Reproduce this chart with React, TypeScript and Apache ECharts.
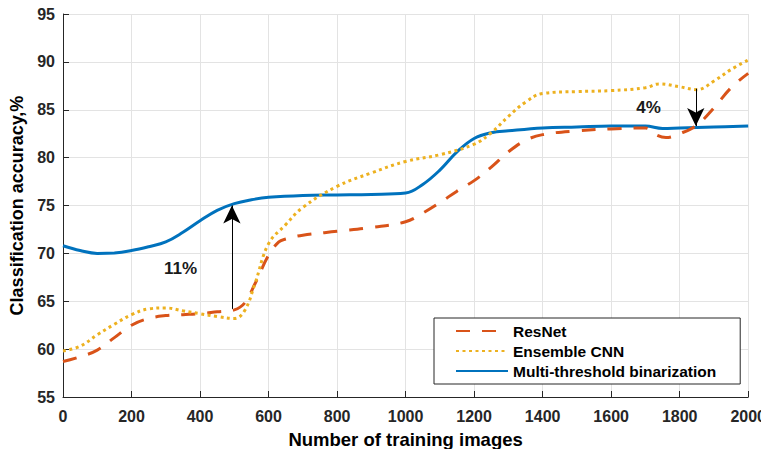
import React, { useEffect, useRef } from "react";
import * as echarts from "echarts";

const resnetX = [0, 50, 100, 150, 200, 250, 300, 350, 400, 450, 500, 530, 560, 600, 630, 650, 700, 800, 900, 1000, 1050, 1100, 1150, 1200, 1250, 1300, 1350, 1400, 1500, 1600, 1700, 1730, 1760, 1800, 1850, 1900, 1950, 2000];
const resnetY = [58.7, 59.2, 59.9, 61.2, 62.5, 63.2, 63.5, 63.6, 63.7, 63.9, 64.1, 64.8, 66.8, 69.8, 71.2, 71.5, 71.9, 72.3, 72.7, 73.3, 74.2, 75.3, 76.5, 77.6, 79.0, 80.6, 81.8, 82.4, 82.8, 83.0, 83.1, 82.4, 82.1, 82.5, 83.4, 85.2, 87.3, 88.8];

const ensembleX = [0, 50, 100, 150, 200, 250, 300, 350, 400, 450, 500, 530, 560, 600, 650, 700, 800, 900, 1000, 1100, 1200, 1250, 1300, 1350, 1400, 1500, 1600, 1700, 1740, 1800, 1850, 1900, 1950, 2000];
const ensembleY = [59.8, 60.3, 61.5, 62.6, 63.6, 64.2, 64.3, 64.0, 63.7, 63.4, 63.2, 64.0, 66.8, 71.0, 73.0, 74.8, 77.0, 78.4, 79.6, 80.3, 81.4, 82.6, 84.3, 85.8, 86.7, 86.9, 87.0, 87.3, 87.7, 87.4, 87.1, 88.0, 89.2, 90.2];

const multiX = [0, 50, 100, 150, 200, 250, 300, 350, 400, 450, 500, 550, 600, 700, 800, 900, 1000, 1050, 1100, 1150, 1200, 1250, 1300, 1400, 1500, 1600, 1700, 1750, 1800, 1900, 2000];
const multiY = [70.8, 70.3, 70.0, 70.05, 70.3, 70.7, 71.2, 72.2, 73.4, 74.5, 75.2, 75.6, 75.85, 76.05, 76.1, 76.15, 76.3, 77.2, 78.7, 80.6, 82.0, 82.6, 82.8, 83.1, 83.2, 83.3, 83.3, 83.05, 83.1, 83.2, 83.3];

const seriesNames = ["ResNet", "Ensemble CNN", "Multi-threshold binarization"];

// annotation arrows: [x, yFrom, yTo]
const arrow1 = [493, 64.2, 75.0];
const arrow2 = [1847, 87.2, 83.3];
// annotation labels: [x, y, text]
const label1: [number, number, string] = [343, 68.4, "11%"];
const label2: [number, number, string] = [1709, 85.25, "4%"];

const FONT = "'Liberation Sans', Arial, Helvetica, sans-serif";
const AX = "#262626";

function zip(xs: number[], ys: number[]) {
  return xs.map((x, i) => [x, ys[i]]);
}

export default function App() {
  const ref = useRef<HTMLDivElement>(null);
  useEffect(() => {
    const chart = echarts.init(ref.current!, undefined, { renderer: "svg" });
    chart.setOption({
      animation: false,
      backgroundColor: "#fff",
      textStyle: { fontFamily: FONT },
      grid: { left: 63, right: 20, top: 14, bottom: 60, containLabel: false },
      legend: {
        data: seriesNames,
        orient: "vertical",
        left: 434,
        top: 318,
        itemWidth: 52,
        itemHeight: 14,
        itemGap: 4,
        padding: [5, 24, 5, 21],
        backgroundColor: "#fff",
        borderColor: AX,
        borderWidth: 1,
        borderRadius: 0,
        itemStyle: { opacity: 0, color: "rgba(0,0,0,0)", borderWidth: 0 },
        textStyle: { fontFamily: FONT, fontWeight: "bold", fontSize: 15.5, color: "#000" },
      },
      xAxis: {
        type: "value",
        min: 0,
        max: 2000,
        interval: 200,
        name: "Number of training images",
        nameLocation: "middle",
        nameGap: 33,
        nameTextStyle: { fontFamily: FONT, fontWeight: "bold", fontSize: 18.5, color: "#000" },
        axisLine: { show: true, lineStyle: { color: AX, width: 1 } },
        axisTick: { show: true, inside: true, length: 6, lineStyle: { color: AX } },
        axisLabel: { fontFamily: FONT, fontWeight: "bold", fontSize: 16, color: AX, margin: 11, formatter: (v: number) => String(v) },
        splitLine: { show: true, lineStyle: { color: "#e3e3e3", width: 1 } },
      },
      yAxis: {
        type: "value",
        min: 55,
        max: 95,
        interval: 5,
        name: "Classification accuracy,%",
        nameLocation: "middle",
        nameGap: 30,
        nameTextStyle: { fontFamily: FONT, fontWeight: "bold", fontSize: 18, color: "#000" },
        axisLine: { show: true, lineStyle: { color: AX, width: 1 } },
        axisTick: { show: true, inside: true, length: 6, lineStyle: { color: AX } },
        axisLabel: { fontFamily: FONT, fontWeight: "bold", fontSize: 16, color: AX, margin: 8, formatter: (v: number) => String(v) },
        splitLine: { show: true, lineStyle: { color: "#e3e3e3", width: 1 } },
      },
      series: [
        {
          name: seriesNames[0],
          type: "line",
          data: zip(resnetX, resnetY),
          smooth: 0.4,
          symbol: "none",
          z: 3,
          lineStyle: { color: "#D95319", width: 3, type: [14, 12] },
          itemStyle: { color: "#D95319" },
        },
        {
          name: seriesNames[1],
          type: "line",
          data: zip(ensembleX, ensembleY),
          smooth: 0.4,
          symbol: "none",
          z: 4,
          lineStyle: { color: "#EDB120", width: 3, type: [3, 3.5] },
          itemStyle: { color: "#EDB120" },
        },
        {
          name: seriesNames[2],
          type: "line",
          data: zip(multiX, multiY),
          smooth: 0.4,
          symbol: "none",
          z: 2,
          lineStyle: { color: "#0072BD", width: 3, type: "solid" },
          itemStyle: { color: "#0072BD" },
        },
        {
          name: "annotations",
          type: "line",
          data: [],
          z: 6,
          markLine: {
            silent: true,
            symbol: ["none", "arrow"],
            symbolSize: [13, 18],
            label: { show: false },
            lineStyle: { color: "#000", width: 1, type: "solid" },
            itemStyle: { color: "#000" },
            data: [
              [{ coord: [arrow1[0], arrow1[1]] }, { coord: [arrow1[0], arrow1[2]] }],
              [{ coord: [arrow2[0], arrow2[1]] }, { coord: [arrow2[0], arrow2[2]] }],
            ],
          },
          markPoint: {
            silent: true,
            symbol: "circle",
            symbolSize: 1,
            itemStyle: { color: "rgba(0,0,0,0)" },
            label: {
              show: true,
              position: "inside",
              fontFamily: FONT,
              fontWeight: "bold",
              fontSize: 17,
              color: "#1a1a1a",
            },
            data: [
              { coord: [label1[0], label1[1]], value: label1[2], label: { formatter: label1[2] } },
              { coord: [label2[0], label2[1]], value: label2[2], label: { formatter: label2[2] } },
            ],
          },
        },
      ],
    });
    return () => chart.dispose();
  }, []);
  return <div ref={ref} style={{ width: 769, height: 457, margin: -8 }} />;
}
